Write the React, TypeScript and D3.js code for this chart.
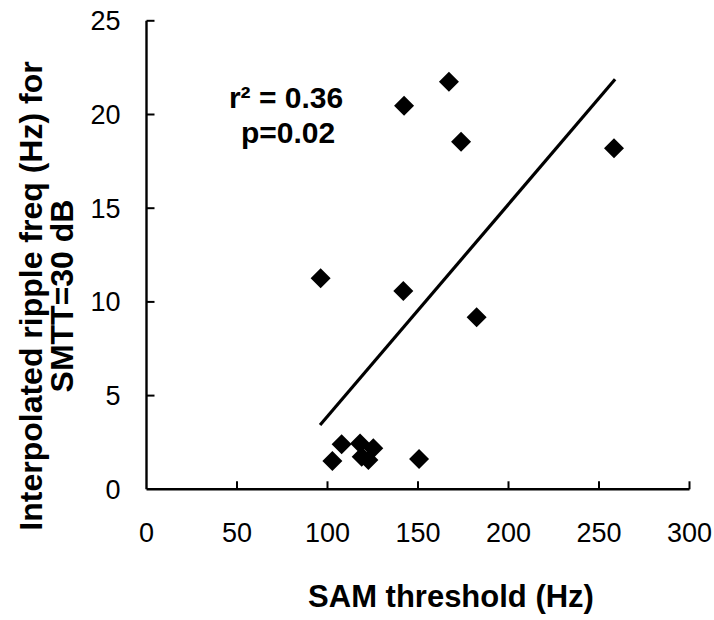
import React from "react";
import * as d3 from "d3";

const samThreshold = [96.2, 107.8, 102.7, 118.0, 118.9, 122.6, 125.3, 142.3, 167.1, 173.8, 258.3, 141.9, 182.4, 150.6];
const rippleFreq = [11.26, 2.40, 1.51, 2.45, 1.74, 1.56, 2.19, 20.47, 21.75, 18.55, 18.2, 10.58, 9.18, 1.62];
const fitX = [95.9, 258.9];
const fitY = [3.43, 21.88];
const xTicks = [0, 50, 100, 150, 200, 250, 300];
const yTicks = [0, 5, 10, 15, 20, 25];

const W = 714;
const H = 620;
const FONT = "'Liberation Sans', Arial, Helvetica, sans-serif";

export default function App() {
  const x = d3.scaleLinear().domain([0, 300]).range([146.5, 689.5]);
  const y = d3.scaleLinear().domain([0, 25]).range([489.3, 20.8]);
  const diamond = d3.symbol().type(d3.symbolSquare).size(200)();
  const line = d3
    .line<number>()
    .x((d) => x(d))
    .y((_, i) => y(fitY[i]));

  return (
    <svg width={W} height={H} style={{ position: "absolute", left: 0, top: 0, background: "#fff" }}>
      <rect width={W} height={H} fill="#fff" />
      {/* axes */}
      <line x1={x(0)} x2={x(300)} y1={y(0)} y2={y(0)} stroke="#000" strokeWidth={2.4} />
      <line x1={x(0)} x2={x(0)} y1={y(0)} y2={y(25)} stroke="#000" strokeWidth={2.4} />
      {xTicks.slice(1).map((t) => (
        <line key={"xt" + t} x1={x(t)} x2={x(t)} y1={y(0)} y2={y(0) - 8} stroke="#000" strokeWidth={2} />
      ))}
      {yTicks.slice(1).map((t) => (
        <line key={"yt" + t} x1={x(0)} x2={x(0) + 8} y1={y(t)} y2={y(t)} stroke="#000" strokeWidth={2} />
      ))}
      {xTicks.map((t) => (
        <text key={"xl" + t} x={x(t)} y={y(0) + 53} textAnchor="middle" fontFamily={FONT} fontSize={27} fill="#000">
          {t}
        </text>
      ))}
      {yTicks.map((t) => (
        <text key={"yl" + t} x={x(0) - 26} y={y(t)} dy="0.35em" textAnchor="end" fontFamily={FONT} fontSize={27} fill="#000">
          {t}
        </text>
      ))}
      {/* fit line */}
      <path d={line(fitX) || ""} fill="none" stroke="#000" strokeWidth={3.2} />
      {/* points */}
      {samThreshold.map((v, i) => (
        <path
          key={"p" + i}
          d={diamond}
          transform={`translate(${x(v)},${y(rippleFreq[i])}) rotate(45)`}
          fill="#000"
        />
      ))}
      {/* annotation */}
      <text x={286} y={108} textAnchor="middle" fontFamily={FONT} fontSize={30} fontWeight="bold" fill="#000">
        r² = 0.36
      </text>
      <text x={288} y={143} textAnchor="middle" fontFamily={FONT} fontSize={30} fontWeight="bold" fill="#000">
        p=0.02
      </text>
      {/* axis titles */}
      <text x={451} y={607} textAnchor="middle" fontFamily={FONT} fontSize={31} fontWeight="bold" fill="#000">
        SAM threshold (Hz)
      </text>
      <g transform="translate(42,296) rotate(-90)">
        <text x={0} y={0} textAnchor="middle" fontFamily={FONT} fontSize={32} fontWeight="bold" fill="#000">
          Interpolated ripple freq (Hz) for
        </text>
        <text x={0} y={31} textAnchor="middle" fontFamily={FONT} fontSize={32} fontWeight="bold" fill="#000">
          SMTT=30 dB
        </text>
      </g>
    </svg>
  );
}
